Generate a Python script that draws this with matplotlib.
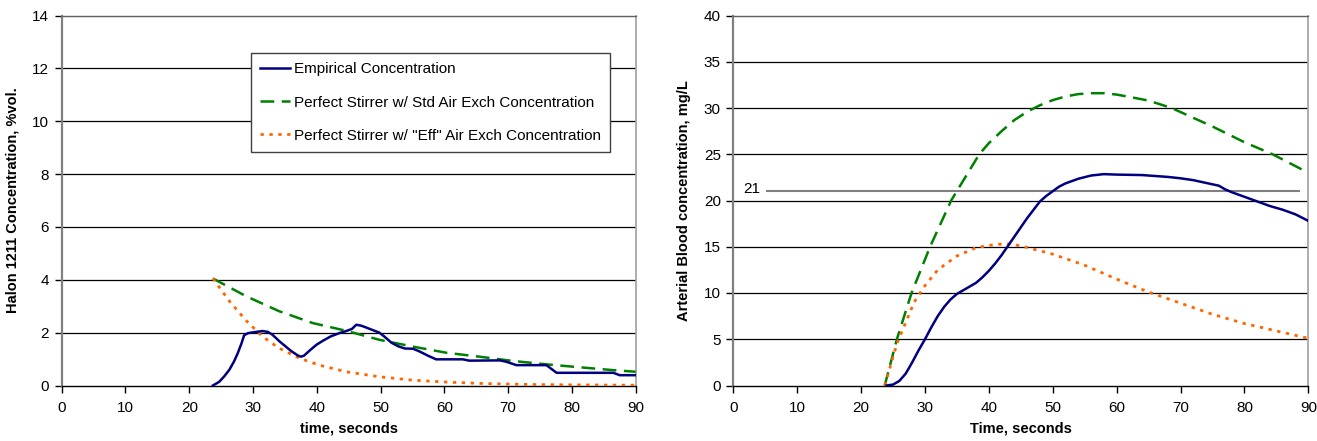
import matplotlib
matplotlib.use("Agg")
import matplotlib.pyplot as plt

plt.rcParams['font.family'] = ['Liberation Sans', 'DejaVu Sans']

# ---------------- Left chart data ----------------
emp_x = [23.7, 24.7, 25.5, 26.3, 27.0, 27.6, 28.2, 28.6, 29.2, 30.2, 31.5, 32.3, 33.0,
         34.2, 35.0, 36.0, 37.0, 37.5, 38.0, 39.0, 40.0, 41.0, 42.2, 43.5, 44.6, 45.5,
         46.2, 47.0, 48.0, 49.8, 50.6, 51.7, 52.8, 53.8, 55.1, 56.0, 57.5, 58.7, 62.9,
         63.9, 68.7, 69.7, 71.3, 76.0, 77.6, 86.5, 87.5, 90.0]
emp_y = [0.0, 0.14, 0.35, 0.6, 0.9, 1.22, 1.6, 1.9, 1.98, 2.02, 2.06, 2.03, 1.93,
         1.66, 1.5, 1.3, 1.14, 1.09, 1.13, 1.35, 1.55, 1.7, 1.86, 1.98, 2.06, 2.14,
         2.30, 2.26, 2.17, 2.0, 1.85, 1.62, 1.48, 1.40, 1.39, 1.3, 1.12, 0.99, 0.99,
         0.94, 0.95, 0.9, 0.77, 0.77, 0.48, 0.48, 0.39, 0.39]

std_x = [23.7, 28.9, 34.1, 39.4, 44.6, 49.8, 55.1, 60.3, 65.5, 70.7, 76.0, 81.2, 86.5, 90.0]
std_y = [4.05, 3.38, 2.81, 2.36, 2.07, 1.73, 1.47, 1.24, 1.09, 0.93, 0.80, 0.69, 0.58, 0.52]

eff_x = [23.7, 26.3, 28.9, 31.5, 34.1, 37.3, 40.4, 44.6, 49.8, 55.1, 60.3, 65.5, 70.7, 76.0, 90.0]
eff_y = [4.05, 3.19, 2.46, 1.85, 1.41, 1.03, 0.77, 0.52, 0.33, 0.20, 0.13, 0.08, 0.05, 0.03, 0.01]

# ---------------- Right chart data ----------------
b_emp_x = [24, 25, 26, 27, 28, 29, 30, 31, 32, 33, 34, 35, 36, 37, 38, 39, 40, 41, 42, 43,
           44, 45, 46, 47, 48, 49, 50, 51, 52, 54, 56, 58, 60, 64, 68, 70, 72, 76, 77, 78,
           80, 82, 84, 86, 88, 90]
b_emp_y = [0.0, 0.1, 0.5, 1.3, 2.5, 3.8, 5.0, 6.3, 7.5, 8.5, 9.3, 9.9, 10.3, 10.7, 11.1,
           11.7, 12.4, 13.2, 14.1, 15.1, 16.1, 17.1, 18.1, 19.0, 19.9, 20.5, 21.0, 21.5,
           21.85, 22.35, 22.7, 22.85, 22.8, 22.75, 22.55, 22.4, 22.2, 21.6, 21.2, 20.9,
           20.4, 19.9, 19.4, 19.0, 18.5, 17.8]

b_std_x = [23.7, 25.6, 27.9, 30.8, 34.1, 38.5, 40.0, 42.0, 44.0, 46.0, 48.0, 50.0, 52.0,
           54.0, 56.0, 58.0, 60.0, 62.0, 65.0, 68.6, 75.0, 80.0, 84.4, 90.0]
b_std_y = [0.0, 5.0, 10.0, 15.0, 20.0, 25.0, 26.2, 27.5, 28.7, 29.6, 30.3, 30.85, 31.25,
           31.5, 31.6, 31.6, 31.45, 31.2, 30.8, 30.0, 28.0, 26.3, 25.0, 23.0]

b_eff_x = [23.7, 25.6, 28.3, 30.0, 32.0, 35.0, 38.0, 41.0, 43.0, 45.0, 50.0, 55.0, 60.0,
           65.0, 70.0, 75.0, 80.0, 85.0, 90.0]
b_eff_y = [0.0, 4.5, 9.0, 10.8, 12.5, 14.0, 14.9, 15.25, 15.3, 15.1, 14.2, 13.0, 11.5,
           10.1, 8.9, 7.7, 6.7, 5.9, 5.1]

ref_level = 21
ref_x = [5.2, 88.5]

x_ticks = [0, 10, 20, 30, 40, 50, 60, 70, 80, 90]
left_yticks = [0, 2, 4, 6, 8, 10, 12, 14]
right_yticks = [0, 5, 10, 15, 20, 25, 30, 35, 40]

labels = ["Empirical Concentration",
          "Perfect Stirrer w/ Std Air Exch Concentration",
          "Perfect Stirrer w/ \"Eff\" Air Exch Concentration"]

BLUE = "#000080"
GREEN = "#008000"
ORANGE = "#FF6600"

W, H = 1317, 441
fig = plt.figure(figsize=(W / 100, H / 100), dpi=100)

def make_axes(x0, x1, y0, y1):
    return fig.add_axes([x0 / W, 1 - y1 / H, (x1 - x0) / W, (y1 - y0) / H])

axL = make_axes(61.7, 635.7, 15.5, 385.5)
axR = make_axes(733.3, 1308.3, 15.5, 385.5)

def style(ax, yticks, ymax):
    ax.set_xlim(0, 90)
    ax.set_ylim(0, ymax)
    ax.set_xticks(x_ticks)
    ax.set_yticks(yticks)
    for y in yticks[1:-1]:
        ax.axhline(y, color="black", lw=0.9, zorder=1)
    ax.spines['left'].set_color("#808080")
    ax.spines['left'].set_linewidth(1.6)
    ax.spines['bottom'].set_color("black")
    ax.spines['bottom'].set_linewidth(1.0)
    ax.spines['top'].set_color("#606060")
    ax.spines['top'].set_linewidth(1.0)
    ax.spines['right'].set_color("#a0a0a0")
    ax.spines['right'].set_linewidth(1.2)
    ax.tick_params(axis='both', direction='out', length=5, width=1.0,
                   labelsize=11, color="black", pad=4)
    ax.tick_params(axis='x', pad=6)

style(axL, left_yticks, 14)
style(axR, right_yticks, 40)

# Left chart
l1, = axL.plot(emp_x, emp_y, color=BLUE, lw=1.8, zorder=4)
l2, = axL.plot(std_x, std_y, color=GREEN, lw=1.8, dashes=(5.5, 3), zorder=3)
l3, = axL.plot(eff_x, eff_y, color=ORANGE, lw=2.0, dashes=(1.2, 2.0), zorder=3)
axL.set_xlabel("time, seconds", fontsize=10.5, fontweight="bold", labelpad=5)
axL.set_ylabel("Halon 1211 Concentration, %vol.", fontsize=10.5, fontweight="bold", labelpad=9)
leg = axL.legend([l1, l2, l3], labels, loc="upper left",
                 bbox_to_anchor=((250.7 - 61.7) / 574, (385.5 - 53.3) / 370),
                 frameon=True, fancybox=False, fontsize=11, handlelength=2.0,
                 handletextpad=0.25, labelspacing=1.25, borderpad=0.6,
                 borderaxespad=0, framealpha=1)
leg.get_frame().set_edgecolor("#404040")
leg.get_frame().set_linewidth(1.0)
leg.set_zorder(10)

# Right chart
axR.plot(b_emp_x, b_emp_y, color=BLUE, lw=1.8, zorder=4)
axR.plot(b_std_x, b_std_y, color=GREEN, lw=1.8, dashes=(5.5, 3), zorder=3)
axR.plot(b_eff_x, b_eff_y, color=ORANGE, lw=2.0, dashes=(1.2, 2.0), zorder=3)
axR.plot(ref_x, [ref_level, ref_level], color="#808080", lw=1.5, zorder=2)
axR.text(ref_x[0] - 1.0, ref_level + 0.2, str(ref_level), ha="right", va="center", fontsize=11)
axR.set_xlabel("Time, seconds", fontsize=10.5, fontweight="bold", labelpad=5)
axR.set_ylabel("Arterial Blood concentration, mg/L", fontsize=10.5, fontweight="bold", labelpad=9)

fig.savefig("out.png", dpi=100)
